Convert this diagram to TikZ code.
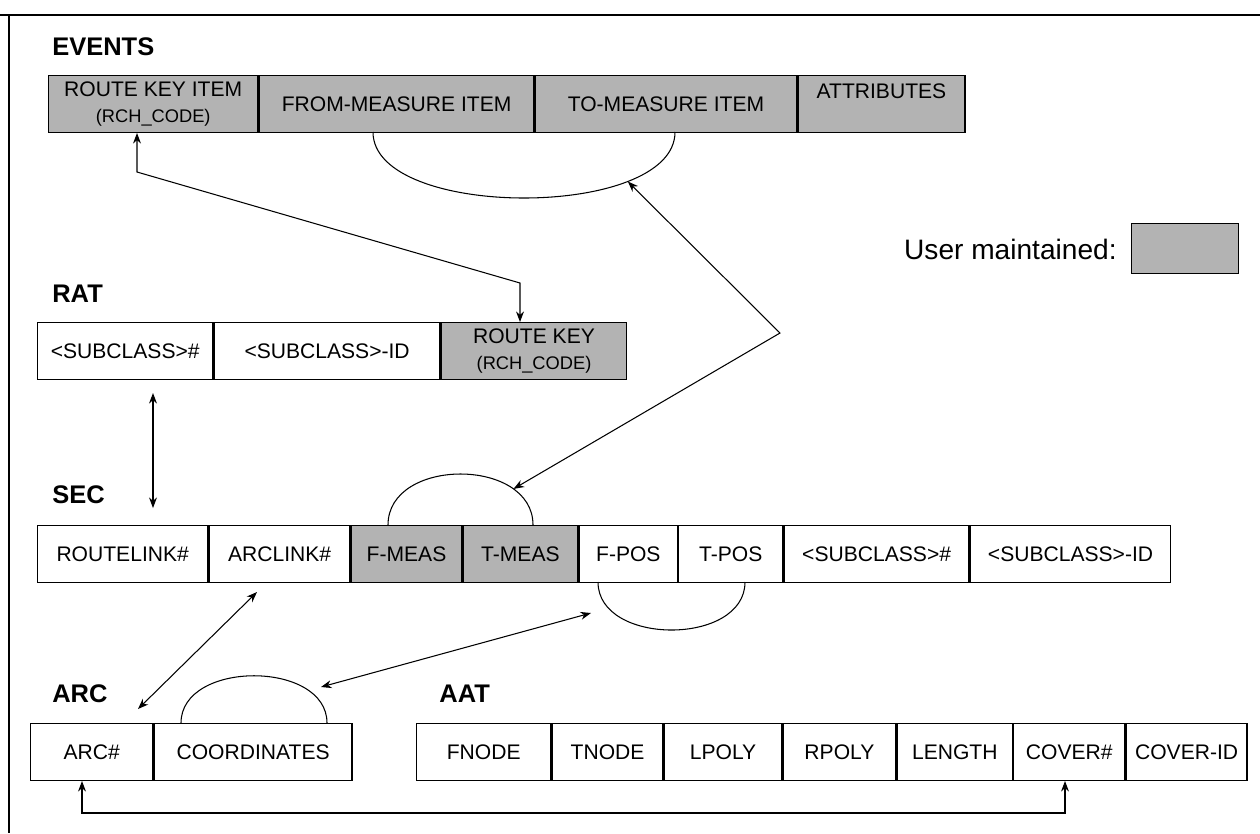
\documentclass[tikz,border=0pt]{standalone}
\usepackage{fontspec}
\setmainfont{Liberation Sans}
\newfontfamily\datefont{Liberation Serif}
\usetikzlibrary{positioning,arrows.meta}
\definecolor{usergray}{RGB}{179,179,179}

\begin{document}
\begin{tikzpicture}[x=0.02cm,y=-0.02cm,
    tabcell/.style={draw,line width=0.8pt,inner sep=0pt,minimum height=1.14cm,
        minimum width=#1*0.02cm,align=center,font=\fontsize{12}{14.5}\selectfont},
    usercell/.style={tabcell=#1,fill=usergray},
    tabtitle/.style={anchor=base west,inner sep=0pt,font=\bfseries\fontsize{14.5}{17}\selectfont},
    rangearc/.style={line width=0.6pt},
    linkarrow/.style={line width=0.6pt,{Stealth[length=6pt,width=4.5pt]}-{Stealth[length=6pt,width=4.5pt]}}]
    \useasboundingbox[fill=white] (0,0) rectangle (1260,833);
    %% page frame
    \node[anchor=base east,inner sep=0pt,font=\datefont\bfseries\fontsize{16}{16}\selectfont] (date) at (1247,-6) {March 02, 2003};
    \draw[line width=1.4pt] (0,15) -- (1260,15);
    \draw[line width=1.4pt] (9,15) -- (9,833);
    %% events table
    \node[tabtitle] (evtitle) at (52,55) {EVENTS};
    \node[usercell=209,anchor=north west] (ev1) at (48,75) {ROUTE KEY ITEM\\{\fontsize{10.4}{12}\selectfont(RCH\_CODE)}};
    \node[usercell=275,right=0pt of ev1] (ev2) {FROM-MEASURE ITEM};
    \node[usercell=261,right=0pt of ev2] (ev3) {TO-MEASURE ITEM};
    \node[usercell=167,right=0pt of ev3] (ev4) {ATTRIBUTES\\~};
    \draw[rangearc] (373,132) .. controls (373,220) and (675,220) .. (675,132) coordinate[pos=0.75] (evarc);
    %% legend
    \node[anchor=base east,inner sep=0pt,font=\fontsize{16}{19}\selectfont] (legtext) at (1117,259) {User maintained:};
    \node[usercell=107,minimum height=1cm,anchor=north west] (legbox) at (1131,223) {};
    %% rat table
    \node[tabtitle] (rattitle) at (52,302) {RAT};
    \node[tabcell=175,anchor=north west] (rat1) at (37,322) {<SUBCLASS>\#};
    \node[tabcell=226,right=0pt of rat1] (rat2) {<SUBCLASS>-ID};
    \node[usercell=185,right=0pt of rat2] (rat3) {ROUTE KEY\\{\fontsize{10.4}{12}\selectfont(RCH\_CODE)}};
    %% sec table
    \node[tabtitle] (sectitle) at (52,503) {SEC};
    \node[tabcell=170,anchor=north west] (sec1) at (37,525) {ROUTELINK\#};
    \node[tabcell=141,right=0pt of sec1] (sec2) {ARCLINK\#};
    \node[usercell=110,right=0pt of sec2] (sec3) {F-MEAS};
    \node[usercell=115,right=0pt of sec3] (sec4) {T-MEAS};
    \node[tabcell=98,right=0pt of sec4] (sec5) {F-POS};
    \node[tabcell=104,right=0pt of sec5] (sec6) {T-POS};
    \node[tabcell=185,right=0pt of sec6] (sec7) {<SUBCLASS>\#};
    \node[tabcell=200,right=0pt of sec7] (sec8) {<SUBCLASS>-ID};
    \draw[rangearc] (388,525) .. controls (388,457) and (533,457) .. (533,525) coordinate[pos=0.77] (secarc);
    \draw[rangearc] (598,582) .. controls (598,646) and (745,646) .. (745,582);
    %% arc table
    \node[tabtitle] (arctitle) at (52,702) {ARC};
    \node[tabcell=122,anchor=north west] (arc1) at (30,723) {ARC\#};
    \node[tabcell=198,right=0pt of arc1] (arc2) {COORDINATES};
    \draw[rangearc] (181,723) .. controls (181,660) and (327,660) .. (327,723);
    %% aat table
    \node[tabtitle] (aattitle) at (439,702) {AAT};
    \node[tabcell=134,anchor=north west] (aat1) at (416,723) {FNODE};
    \node[tabcell=111,right=0pt of aat1] (aat2) {TNODE};
    \node[tabcell=117,right=0pt of aat2] (aat3) {LPOLY};
    \node[tabcell=113,right=0pt of aat3] (aat4) {RPOLY};
    \node[tabcell=115,right=0pt of aat4] (aat5) {LENGTH};
    \node[tabcell=111,right=0pt of aat5] (aat6) {COVER\#};
    \node[tabcell=121,right=0pt of aat6] (aat7) {COVER-ID};
    %% link ends
    \coordinate (evkey) at (137,133);
    \coordinate (ratkey) at (520,322);
    \coordinate (ratsub) at (153,393);
    \coordinate (secroute) at (153,508);
    \coordinate (secarclink) at (257,592);
    \coordinate (arcnum) at (138,709);
    \coordinate (secpos) at (591,613);
    \coordinate (arccoord) at (321,687);
    \coordinate (arcbottom) at (82,781);
    \coordinate (aatcover) at (1065,781);
    %% links
    \draw[linkarrow] (evkey) -- (137,172) -- (520,283) -- (ratkey);
    \draw[linkarrow] (secarc) -- (780,333) -- (evarc);
    \draw[linkarrow] (ratsub) -- (secroute);
    \draw[linkarrow] (secarclink) -- (arcnum);
    \draw[linkarrow] (secpos) -- (arccoord);
    \draw[linkarrow] (arcbottom) -- (82,813) -| (aatcover);
\end{tikzpicture}
\end{document}
